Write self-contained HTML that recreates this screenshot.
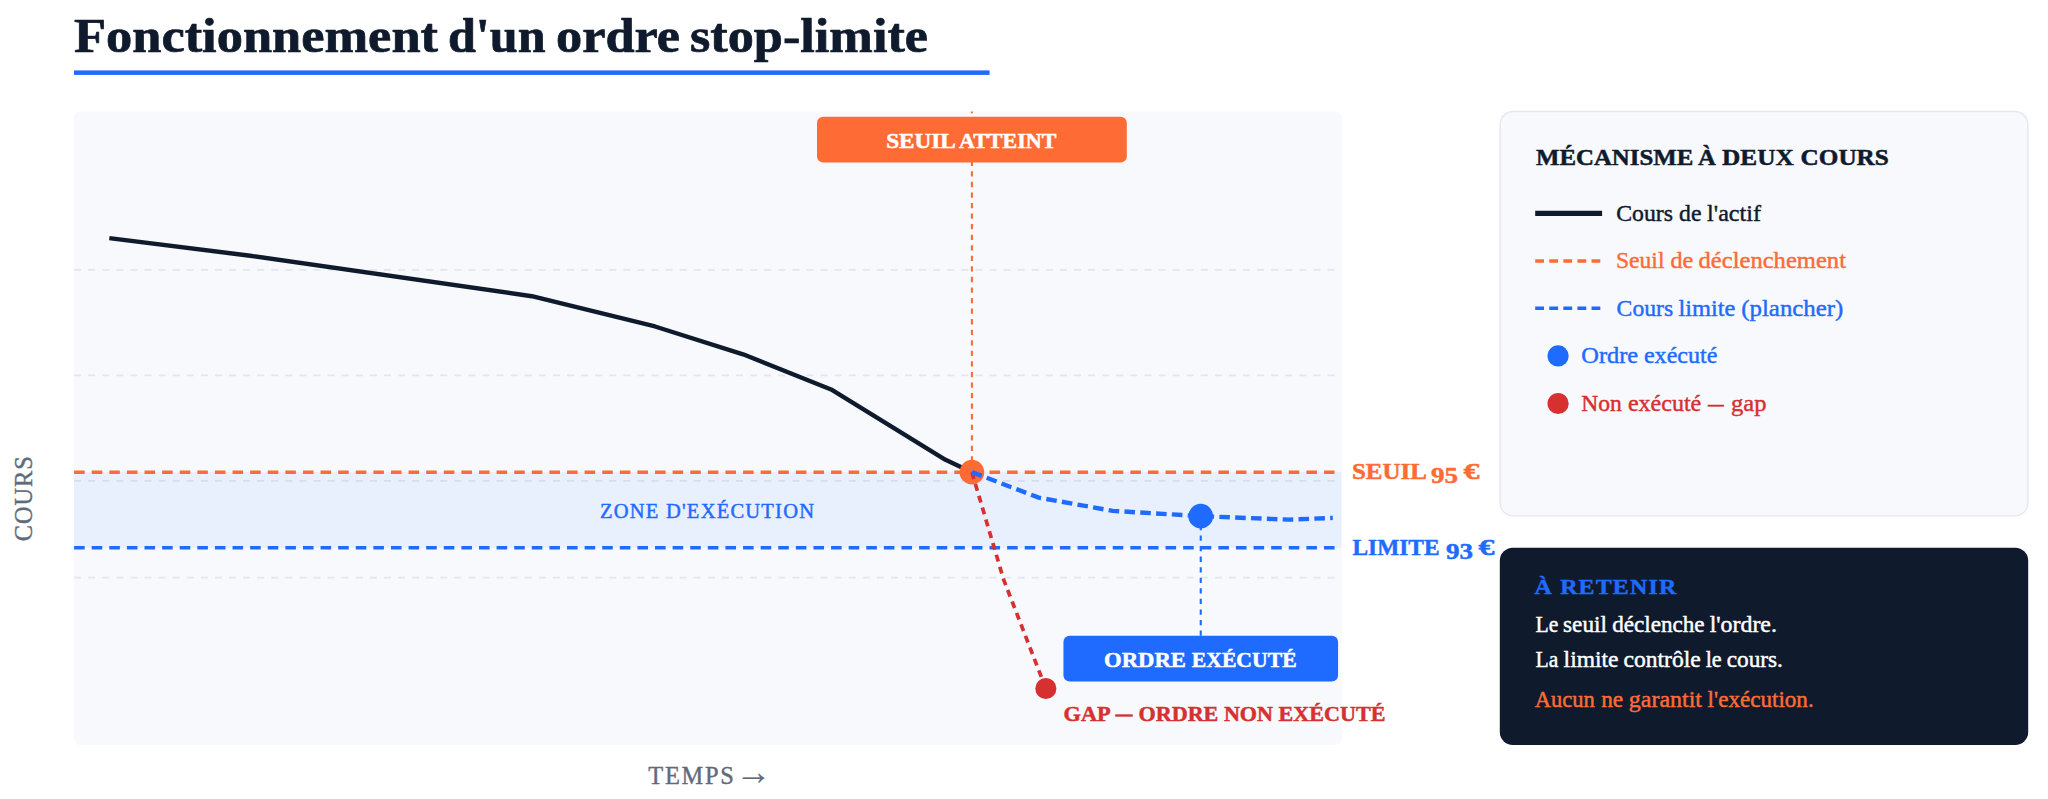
<!DOCTYPE html>
<html lang="fr">
<head>
<meta charset="utf-8">
<title>Fonctionnement d'un ordre stop-limite</title>
<style>
  html, body { margin: 0; padding: 0; background: #ffffff; }
  body { position: relative; width: 2048px; height: 799px; overflow: hidden; }
  header, figure, aside { position: absolute; margin: 0; padding: 0; }
  svg { display: block; overflow: visible; }
  text { font-family: "Liberation Serif", serif; paint-order: stroke fill; stroke-linejoin: round; }
  .b { font-weight: bold; }
</style>
</head>
<body>
<main>
<header class="page-title" style="left:0px;top:0px;width:2048px;height:100px">
<svg width="2048" height="100" viewBox="0 0 2048 100">
  <!-- Title -->
  <text class="b" y="51.8" font-size="47.5" fill="#0f1b2d" stroke="#0f1b2d" stroke-width="0.7"><tspan x="74" textLength="364" lengthAdjust="spacingAndGlyphs">Fonctionnement</tspan> <tspan x="448" textLength="97.5" lengthAdjust="spacingAndGlyphs">d'un</tspan> <tspan x="556" textLength="124" lengthAdjust="spacingAndGlyphs">ordre</tspan> <tspan x="690" textLength="238" lengthAdjust="spacingAndGlyphs">stop-limite</tspan></text>
  <rect x="74" y="70.4" width="915.6" height="4.5" fill="#1f6bff"/>
</svg>
</header>
<figure class="chart" style="left:0px;top:100px;width:1498px;height:699px">
<svg width="1498" height="699" viewBox="0 100 1498 699">
  <!-- Chart -->
  <g transform="translate(74.1,111.5) scale(1.7604,1.7593)">
    <rect x="0" y="0" width="720" height="360" rx="3" fill="#f7f9fd"/>
    <!-- grid -->
    <g stroke="#e3e6ee" stroke-width="1" stroke-dasharray="4 4" fill="none">
      <line x1="0" y1="90" x2="720" y2="90"/>
      <line x1="0" y1="150" x2="720" y2="150"/>
      <line x1="0" y1="210" x2="720" y2="210"/>
      <line x1="0" y1="265" x2="720" y2="265"/>
    </g>
    <!-- execution zone -->
    <rect x="0" y="205" width="720" height="43" fill="#1f6bff" fill-opacity="0.068"/>
    <!-- threshold / limit lines -->
    <line x1="0" y1="205" x2="720" y2="205" stroke="#ff6b35" stroke-width="2" stroke-dasharray="6 4"/>
    <line x1="0" y1="248" x2="720" y2="248" stroke="#1f6bff" stroke-width="2" stroke-dasharray="6 4"/>
    <!-- vertical trigger line -->
    <line x1="510" y1="205" x2="510" y2="0" stroke="#ff6b35" stroke-width="1.2" stroke-dasharray="3 3"/>
    <!-- price path -->
    <polyline points="20,72 100,82 260,105 330,122.2 380,138 430,158 495,198 510,205" fill="none" stroke="#0f1b2d" stroke-width="2.5" stroke-linejoin="round"/>
    <circle cx="510" cy="205" r="7" fill="#ff6b35"/>
    <!-- gap path -->
    <polyline points="510,205 528,266 552,328" fill="none" stroke="#d63031" stroke-width="2.1" stroke-dasharray="4 3" stroke-linejoin="round"/>
    <!-- executed path -->
    <polyline points="510,205 548,219.5 590,227 640,230 690,232 715,231" fill="none" stroke="#1f6bff" stroke-width="2.5" stroke-dasharray="6 3" stroke-linejoin="round"/>
    <!-- vertical executed marker -->
    <line x1="640" y1="298" x2="640" y2="230" stroke="#1f6bff" stroke-width="1.2" stroke-dasharray="3 3"/>
    <!-- dots -->
    <circle cx="640" cy="230" r="7" fill="#1f6bff"/>
    <circle cx="552" cy="328" r="6" fill="#d63031"/>
    <!-- badges -->
    <rect x="422" y="3" width="176" height="26" rx="3.5" fill="#ff6b35"/>
    <rect x="562" y="298" width="156" height="26" rx="3.5" fill="#1f6bff"/>
  </g>

  <!-- Chart texts (absolute px) -->
  <text class="b" y="148.2" font-size="22" fill="#ffffff" stroke="#ffffff" stroke-width="0.5"><tspan x="886.20" textLength="68.40" lengthAdjust="spacingAndGlyphs">SEUIL</tspan> <tspan x="958.90" textLength="97.48" lengthAdjust="spacingAndGlyphs">ATTEINT</tspan></text>
  <text class="b" y="667" font-size="22" fill="#ffffff" stroke="#ffffff" stroke-width="0.5"><tspan x="1104.06" textLength="81.80" lengthAdjust="spacingAndGlyphs">ORDRE</tspan> <tspan x="1191.80" textLength="104.80" lengthAdjust="spacingAndGlyphs">EXÉCUTÉ</tspan></text>
  <text class="b" y="720.7" font-size="22" fill="#d63031" stroke="#d63031" stroke-width="0.5"><tspan x="1063.5" textLength="46" lengthAdjust="spacingAndGlyphs">GAP</tspan> <tspan x="1115.5" textLength="17" lengthAdjust="spacingAndGlyphs">—</tspan> <tspan x="1138.5" textLength="247" lengthAdjust="spacingAndGlyphs">ORDRE NON EXÉCUTÉ</tspan></text>
  <text class="b" y="479" font-size="22.5" fill="#ff6b35" stroke="#ff6b35" stroke-width="0.5"><tspan x="1352" textLength="73.5" lengthAdjust="spacingAndGlyphs">SEUIL</tspan> <tspan x="1431" y="482.5" font-size="24" textLength="27" lengthAdjust="spacingAndGlyphs">95</tspan> <tspan x="1463.5" y="479" textLength="16" lengthAdjust="spacingAndGlyphs">€</tspan></text>
  <text class="b" y="555" font-size="22.5" fill="#1f6bff" stroke="#1f6bff" stroke-width="0.5"><tspan x="1352.5" textLength="87" lengthAdjust="spacingAndGlyphs">LIMITE</tspan> <tspan x="1446" y="558.5" font-size="24" textLength="27" lengthAdjust="spacingAndGlyphs">93</tspan> <tspan x="1478.5" y="555" textLength="16" lengthAdjust="spacingAndGlyphs">€</tspan></text>
  <text x="600" y="517.7" font-size="20.5" fill="#1f6bff" textLength="214" lengthAdjust="spacing" stroke="#1f6bff" stroke-width="0.45">ZONE D'EXÉCUTION</text>
  <text y="784" font-size="24.4" fill="#5f6b7b" stroke="#5f6b7b" stroke-width="0.4"><tspan x="648.3" textLength="85.6" lengthAdjust="spacing">TEMPS</tspan> <tspan x="735.7" y="784.3" font-size="36" stroke-width="0.2">→</tspan></text>
  <text transform="translate(32.4,541.2) rotate(-90)" x="0" y="0" font-size="24.4" fill="#5f6b7b" textLength="85" lengthAdjust="spacing" stroke="#5f6b7b" stroke-width="0.4">COURS</text>
</svg>
</figure>
<aside class="legend" style="left:1498px;top:100px;width:550px;height:432px">
<svg width="550" height="432" viewBox="1498 100 550 432">
  <!-- Legend card -->
  <rect x="1500.1" y="111.5" width="527.8" height="404.4" rx="13" fill="#f7f9fd" stroke="#e5e7ee" stroke-width="1.4"/>
  <text class="b" y="164.8" font-size="23" fill="#0f1b2d" stroke="#0f1b2d" stroke-width="0.5"><tspan x="1535.94" textLength="157.40" lengthAdjust="spacingAndGlyphs">MÉCANISME</tspan> <tspan x="1698.00" textLength="17.84" lengthAdjust="spacingAndGlyphs">À</tspan> <tspan x="1722.10" textLength="71.66" lengthAdjust="spacingAndGlyphs">DEUX</tspan> <tspan x="1800.60" textLength="88.20" lengthAdjust="spacingAndGlyphs">COURS</tspan></text>

  <line x1="1535.2" y1="213.4" x2="1602.1" y2="213.4" stroke="#0f1b2d" stroke-width="5.3"/>
  <text y="220.9" font-size="24.1" fill="#0f1b2d" stroke="#0f1b2d" stroke-width="0.45"><tspan x="1616.20" textLength="56.80" lengthAdjust="spacingAndGlyphs">Cours</tspan> <tspan x="1679.10" textLength="22.40" lengthAdjust="spacingAndGlyphs">de</tspan> <tspan x="1707.10" textLength="53.84" lengthAdjust="spacingAndGlyphs">l'actif</tspan></text>

  <line x1="1535.2" y1="261.1" x2="1602.1" y2="261.1" stroke="#ff6b35" stroke-width="3.5" stroke-dasharray="8.8 5.28"/>
  <text y="268.2" font-size="24.1" fill="#ff6b35" stroke="#ff6b35" stroke-width="0.45"><tspan x="1615.88" textLength="48.62" lengthAdjust="spacingAndGlyphs">Seuil</tspan> <tspan x="1670.50" textLength="22.80" lengthAdjust="spacingAndGlyphs">de</tspan> <tspan x="1698.50" textLength="147.50" lengthAdjust="spacingAndGlyphs">déclenchement</tspan></text>

  <line x1="1535.2" y1="308.2" x2="1602.1" y2="308.2" stroke="#1f6bff" stroke-width="3.5" stroke-dasharray="8.8 5.28"/>
  <text y="315.5" font-size="24.1" fill="#1f6bff" stroke="#1f6bff" stroke-width="0.45"><tspan x="1616.60" textLength="56.60" lengthAdjust="spacingAndGlyphs">Cours</tspan> <tspan x="1678.50" textLength="56.80" lengthAdjust="spacingAndGlyphs">limite</tspan> <tspan x="1741.24" textLength="102.16" lengthAdjust="spacingAndGlyphs">(plancher)</tspan></text>

  <circle cx="1558.1" cy="355.9" r="10.6" fill="#1f6bff"/>
  <text y="362.8" font-size="24.1" fill="#1f6bff" stroke="#1f6bff" stroke-width="0.45"><tspan x="1581.30" textLength="56.90" lengthAdjust="spacingAndGlyphs">Ordre</tspan> <tspan x="1643.90" textLength="73.60" lengthAdjust="spacingAndGlyphs">exécuté</tspan></text>

  <circle cx="1558.1" cy="403.5" r="10.6" fill="#d63031"/>
  <text y="410.8" font-size="24.1" fill="#d63031" stroke="#d63031" stroke-width="0.45"><tspan x="1581.30" textLength="40.60" lengthAdjust="spacingAndGlyphs">Non</tspan> <tspan x="1627.90" textLength="73.40" lengthAdjust="spacingAndGlyphs">exécuté</tspan> <tspan x="1707.94" textLength="15.76" lengthAdjust="spacingAndGlyphs">—</tspan> <tspan x="1731.10" textLength="35.44" lengthAdjust="spacingAndGlyphs">gap</tspan></text>
</svg>
</aside>
<aside class="takeaway" style="left:1498px;top:532px;width:550px;height:267px">
<svg width="550" height="267" viewBox="1498 532 550 267">
  <!-- Takeaway card -->
  <rect x="1499.8" y="547.8" width="528.4" height="197.2" rx="13" fill="#0f1b2d"/>
  <text class="b" transform="translate(1534.6,593.5) scale(1.14,1)" x="0" y="0" font-size="21" fill="#1f6bff" textLength="124.21" lengthAdjust="spacing" stroke="#1f6bff" stroke-width="0.45">À RETENIR</text>
  <text y="632" font-size="23.1" fill="#ffffff" stroke="#ffffff" stroke-width="0.45"><tspan x="1535.50" textLength="22.80" lengthAdjust="spacingAndGlyphs">Le</tspan> <tspan x="1563.10" textLength="43.80" lengthAdjust="spacingAndGlyphs">seuil</tspan> <tspan x="1612.20" textLength="92.40" lengthAdjust="spacingAndGlyphs">déclenche</tspan> <tspan x="1709.70" textLength="67.20" lengthAdjust="spacingAndGlyphs">l'ordre.</tspan></text>
  <text y="667.4" font-size="23.1" fill="#ffffff" stroke="#ffffff" stroke-width="0.45"><tspan x="1535.50" textLength="22.80" lengthAdjust="spacingAndGlyphs">La</tspan> <tspan x="1563.60" textLength="54.90" lengthAdjust="spacingAndGlyphs">limite</tspan> <tspan x="1623.50" textLength="77.20" lengthAdjust="spacingAndGlyphs">contrôle</tspan> <tspan x="1705.70" textLength="16.00" lengthAdjust="spacingAndGlyphs">le</tspan> <tspan x="1726.80" textLength="56.10" lengthAdjust="spacingAndGlyphs">cours.</tspan></text>
  <text y="706.5" font-size="23.1" fill="#ff6b35" stroke="#ff6b35" stroke-width="0.45"><tspan x="1534.70" textLength="60.02" lengthAdjust="spacingAndGlyphs">Aucun</tspan> <tspan x="1601.20" textLength="22.00" lengthAdjust="spacingAndGlyphs">ne</tspan> <tspan x="1628.80" textLength="73.20" lengthAdjust="spacingAndGlyphs">garantit</tspan> <tspan x="1707.60" textLength="106.10" lengthAdjust="spacingAndGlyphs">l'exécution.</tspan></text>
</svg>
</aside>
</main>
</body>
</html>
